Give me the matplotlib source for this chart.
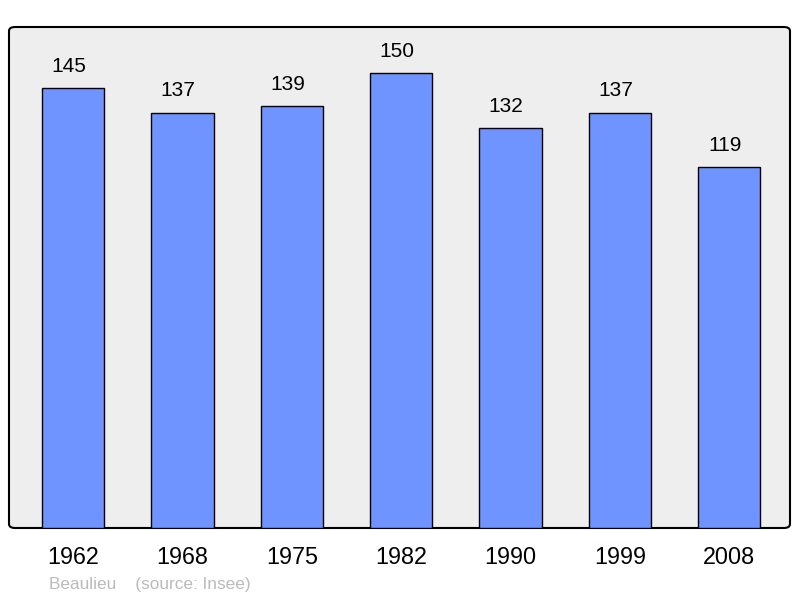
import matplotlib.pyplot as plt
from matplotlib.patches import FancyBboxPatch

years = ["1962", "1968", "1975", "1982", "1990", "1999", "2008"]
population = [145, 137, 139, 150, 132, 137, 119]

plt.rcParams['font.family'] = ['Liberation Sans', 'DejaVu Sans']

fig = plt.figure(figsize=(8, 5.98), dpi=100)
ax = fig.add_axes([9 / 800, 1 - 528 / 598, 781 / 800, 501 / 598])
ax.set_facecolor("none")
for s in ax.spines.values():
    s.set_visible(False)

# rounded background frame
frame = FancyBboxPatch((0, 0), 1, 1, boxstyle="round,pad=0,rounding_size=0.008",
                       transform=ax.transAxes, facecolor="#eeeeee",
                       edgecolor="black", linewidth=1.5, zorder=0, clip_on=False)
ax.add_patch(frame)

x = list(range(len(years)))
ax.bar(x, population, width=0.57, color="#7094ff", edgecolor="black",
       linewidth=1.0, zorder=2)
for xi, v in zip(x, population):
    ax.text(xi - 0.04, v + 4.0, str(v), ha="center", va="bottom", fontsize=15)

ax.set_xlim(-0.585, 6.555)
ax.set_ylim(0, 165.2)
ax.set_yticks([])
ax.set_xticks(x)
ax.set_xticklabels(years, fontsize=16.8)
ax.tick_params(axis="x", length=0, pad=13)

fig.text(49 / 800, 1 - 584 / 598, "Beaulieu    (source: Insee)", fontsize=12.4,
         color="#bbbbbb", ha="left", va="center")

fig.savefig("out.png", dpi=100)
